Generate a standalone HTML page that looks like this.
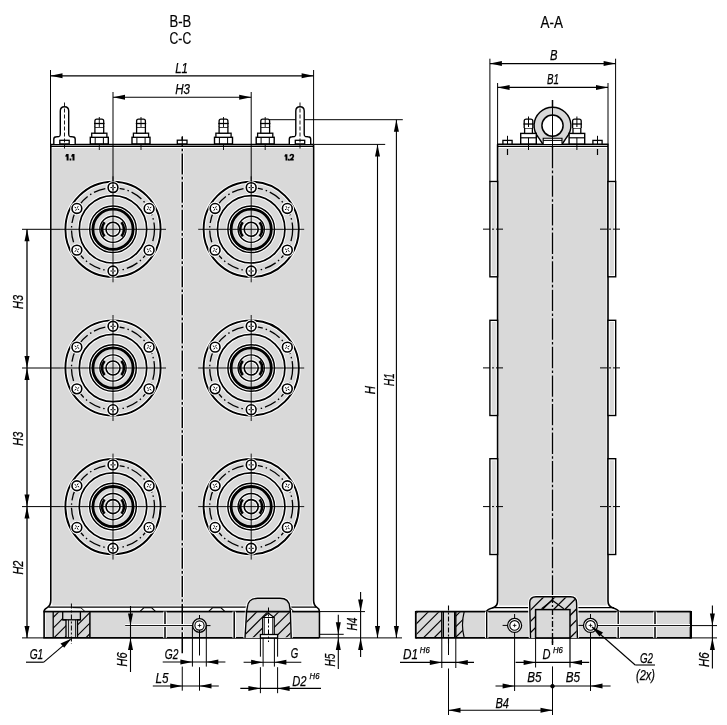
<!DOCTYPE html>
<html><head><meta charset="utf-8"><style>
html,body{margin:0;padding:0;background:#fff;width:727px;height:725px;overflow:hidden}
svg{display:block;will-change:transform}
text{font-family:"Liberation Sans",sans-serif;fill:#000}
</style></head><body>
<svg width="727" height="725" viewBox="0 0 727 725">
<defs>
<clipPath id="clipA"><rect x="416.5" y="612.3" width="25.3" height="25"/><path d="M455.8,612.3 H464.2 Q460.8,624.7 464.2,637.3 H455.8 Z"/></clipPath>
<clipPath id="clipD"><path d="M531,637.9 L530.3,603 Q530.3,597.5 536,597.5 H570.5 Q576,597.5 576,603 L576.8,637.9 Z"/></clipPath>
<clipPath id="clipG1"><path d="M53.2,612.3 H62.7 V619.8 H66 V637.3 H53.2 Z M80.4,612.3 H89.9 V637.3 H77.5 V619.8 H80.4 Z"/></clipPath>
<clipPath id="clipS"><path d="M245.7,637.3 L246.9,612.3 H290 L290.5,637.3 Z"/></clipPath>
</defs>
<text x="169.5" y="27.4" font-size="16"  font-weight="normal" text-anchor="start" textLength="21.7" lengthAdjust="spacingAndGlyphs"  stroke="#000" stroke-width="0.2">B-B</text>
<text x="169.5" y="43.6" font-size="16"  font-weight="normal" text-anchor="start" textLength="21.7" lengthAdjust="spacingAndGlyphs"  stroke="#000" stroke-width="0.2">C-C</text>
<text x="540.5" y="28" font-size="16"  font-weight="normal" text-anchor="start" textLength="22.5" lengthAdjust="spacingAndGlyphs"  stroke="#000" stroke-width="0.2">A-A</text>
<rect x="52.3" y="148" width="259.8" height="457.5" fill="#d9d9d9"  />
<rect x="45.6" y="612.6" width="272.6" height="24.6" fill="#d9d9d9"  />
<line x1="182.25" y1="137" x2="182.25" y2="655" stroke="#fff" stroke-width="3.5" stroke-dasharray="21 2.3 2.6 2.26" stroke-dashoffset="11.66"/>
<line x1="182.25" y1="137" x2="182.25" y2="655" stroke="#000" stroke-width="1.5" stroke-dasharray="21 2.3 2.6 2.26" stroke-dashoffset="11.66"/>
<line x1="182.25" y1="666.6" x2="182.25" y2="690.7" stroke="#000" stroke-width="1" />
<circle cx="113" cy="229.3" r="47.6" fill="none" stroke="#fff" stroke-width="3.9" />
<circle cx="113" cy="229.3" r="47.6" fill="none" stroke="#000" stroke-width="1.9" />
<circle cx="113" cy="229.3" r="41.5" fill="none" stroke="#000" stroke-width="1.3" stroke-dasharray="12 3 1.5 3"/>
<circle cx="113" cy="229.3" r="33.7" fill="none" stroke="#fff" stroke-width="3.7" />
<circle cx="113" cy="229.3" r="33.7" fill="none" stroke="#000" stroke-width="1.7" />
<circle cx="113" cy="229.3" r="23.3" fill="none" stroke="#fff" stroke-width="3.5" />
<circle cx="113" cy="229.3" r="23.3" fill="none" stroke="#000" stroke-width="1.5" />
<circle cx="113" cy="229.3" r="20.1" fill="none" stroke="#000" stroke-width="2.8" />
<circle cx="113" cy="229.3" r="13.1" fill="none" stroke="#fff" stroke-width="3.4" />
<circle cx="113" cy="229.3" r="13.1" fill="none" stroke="#000" stroke-width="1.4" />
<path d="M121.43,222.23 A11.0,11.0 0 0 1 121.43,236.37" fill="none" stroke="#000" stroke-width="2.6" />
<path d="M104.57,222.23 A11.0,11.0 0 0 0 104.57,236.37" fill="none" stroke="#000" stroke-width="2.6" />
<circle cx="113" cy="229.3" r="7" fill="none" stroke="#fff" stroke-width="3.6" />
<circle cx="113" cy="229.3" r="7" fill="none" stroke="#000" stroke-width="1.6" />
<circle cx="149.11" cy="208.45" r="4.9" fill="none" stroke="#fff" stroke-width="3.6" />
<circle cx="149.11" cy="208.45" r="4.9" fill="#fff" stroke="#000" stroke-width="1.6" />
<line x1="149.81" y1="208.05" x2="151.36" y2="207.15" stroke="#000" stroke-width="1" />
<line x1="148.42" y1="208.85" x2="146.86" y2="209.75" stroke="#000" stroke-width="1" />
<line x1="148.71" y1="207.76" x2="147.81" y2="206.2" stroke="#000" stroke-width="1" />
<line x1="149.51" y1="209.14" x2="150.41" y2="210.7" stroke="#000" stroke-width="1" />
<circle cx="113" cy="187.6" r="4.9" fill="none" stroke="#fff" stroke-width="3.6" />
<circle cx="113" cy="187.6" r="4.9" fill="#fff" stroke="#000" stroke-width="1.6" />
<line x1="113" y1="186.8" x2="113" y2="185" stroke="#000" stroke-width="1" />
<line x1="113" y1="188.4" x2="113" y2="190.2" stroke="#000" stroke-width="1" />
<line x1="112.2" y1="187.6" x2="110.4" y2="187.6" stroke="#000" stroke-width="1" />
<line x1="113.8" y1="187.6" x2="115.6" y2="187.6" stroke="#000" stroke-width="1" />
<circle cx="76.89" cy="208.45" r="4.9" fill="none" stroke="#fff" stroke-width="3.6" />
<circle cx="76.89" cy="208.45" r="4.9" fill="#fff" stroke="#000" stroke-width="1.6" />
<line x1="76.19" y1="208.05" x2="74.64" y2="207.15" stroke="#000" stroke-width="1" />
<line x1="77.58" y1="208.85" x2="79.14" y2="209.75" stroke="#000" stroke-width="1" />
<line x1="76.49" y1="209.14" x2="75.59" y2="210.7" stroke="#000" stroke-width="1" />
<line x1="77.29" y1="207.76" x2="78.19" y2="206.2" stroke="#000" stroke-width="1" />
<circle cx="76.89" cy="250.15" r="4.9" fill="none" stroke="#fff" stroke-width="3.6" />
<circle cx="76.89" cy="250.15" r="4.9" fill="#fff" stroke="#000" stroke-width="1.6" />
<line x1="76.19" y1="250.55" x2="74.64" y2="251.45" stroke="#000" stroke-width="1" />
<line x1="77.58" y1="249.75" x2="79.14" y2="248.85" stroke="#000" stroke-width="1" />
<line x1="77.29" y1="250.84" x2="78.19" y2="252.4" stroke="#000" stroke-width="1" />
<line x1="76.49" y1="249.46" x2="75.59" y2="247.9" stroke="#000" stroke-width="1" />
<circle cx="113" cy="271" r="4.9" fill="none" stroke="#fff" stroke-width="3.6" />
<circle cx="113" cy="271" r="4.9" fill="#fff" stroke="#000" stroke-width="1.6" />
<line x1="113" y1="271.8" x2="113" y2="273.6" stroke="#000" stroke-width="1" />
<line x1="113" y1="270.2" x2="113" y2="268.4" stroke="#000" stroke-width="1" />
<line x1="113.8" y1="271" x2="115.6" y2="271" stroke="#000" stroke-width="1" />
<line x1="112.2" y1="271" x2="110.4" y2="271" stroke="#000" stroke-width="1" />
<circle cx="149.11" cy="250.15" r="4.9" fill="none" stroke="#fff" stroke-width="3.6" />
<circle cx="149.11" cy="250.15" r="4.9" fill="#fff" stroke="#000" stroke-width="1.6" />
<line x1="149.81" y1="250.55" x2="151.36" y2="251.45" stroke="#000" stroke-width="1" />
<line x1="148.42" y1="249.75" x2="146.86" y2="248.85" stroke="#000" stroke-width="1" />
<line x1="149.51" y1="249.46" x2="150.41" y2="247.9" stroke="#000" stroke-width="1" />
<line x1="148.71" y1="250.84" x2="147.81" y2="252.4" stroke="#000" stroke-width="1" />
<line x1="60" y1="229.3" x2="166" y2="229.3" stroke="#000" stroke-width="0.9" />
<line x1="113" y1="176.3" x2="113" y2="282.3" stroke="#000" stroke-width="0.9" />
<circle cx="251.2" cy="229.3" r="47.6" fill="none" stroke="#fff" stroke-width="3.9" />
<circle cx="251.2" cy="229.3" r="47.6" fill="none" stroke="#000" stroke-width="1.9" />
<circle cx="251.2" cy="229.3" r="41.5" fill="none" stroke="#000" stroke-width="1.3" stroke-dasharray="12 3 1.5 3"/>
<circle cx="251.2" cy="229.3" r="33.7" fill="none" stroke="#fff" stroke-width="3.7" />
<circle cx="251.2" cy="229.3" r="33.7" fill="none" stroke="#000" stroke-width="1.7" />
<circle cx="251.2" cy="229.3" r="23.3" fill="none" stroke="#fff" stroke-width="3.5" />
<circle cx="251.2" cy="229.3" r="23.3" fill="none" stroke="#000" stroke-width="1.5" />
<circle cx="251.2" cy="229.3" r="20.1" fill="none" stroke="#000" stroke-width="2.8" />
<circle cx="251.2" cy="229.3" r="13.1" fill="none" stroke="#fff" stroke-width="3.4" />
<circle cx="251.2" cy="229.3" r="13.1" fill="none" stroke="#000" stroke-width="1.4" />
<path d="M259.63,222.23 A11.0,11.0 0 0 1 259.63,236.37" fill="none" stroke="#000" stroke-width="2.6" />
<path d="M242.77,222.23 A11.0,11.0 0 0 0 242.77,236.37" fill="none" stroke="#000" stroke-width="2.6" />
<circle cx="251.2" cy="229.3" r="7" fill="none" stroke="#fff" stroke-width="3.6" />
<circle cx="251.2" cy="229.3" r="7" fill="none" stroke="#000" stroke-width="1.6" />
<circle cx="287.31" cy="208.45" r="4.9" fill="none" stroke="#fff" stroke-width="3.6" />
<circle cx="287.31" cy="208.45" r="4.9" fill="#fff" stroke="#000" stroke-width="1.6" />
<line x1="288.01" y1="208.05" x2="289.56" y2="207.15" stroke="#000" stroke-width="1" />
<line x1="286.62" y1="208.85" x2="285.06" y2="209.75" stroke="#000" stroke-width="1" />
<line x1="286.91" y1="207.76" x2="286.01" y2="206.2" stroke="#000" stroke-width="1" />
<line x1="287.71" y1="209.14" x2="288.61" y2="210.7" stroke="#000" stroke-width="1" />
<circle cx="251.2" cy="187.6" r="4.9" fill="none" stroke="#fff" stroke-width="3.6" />
<circle cx="251.2" cy="187.6" r="4.9" fill="#fff" stroke="#000" stroke-width="1.6" />
<line x1="251.2" y1="186.8" x2="251.2" y2="185" stroke="#000" stroke-width="1" />
<line x1="251.2" y1="188.4" x2="251.2" y2="190.2" stroke="#000" stroke-width="1" />
<line x1="250.4" y1="187.6" x2="248.6" y2="187.6" stroke="#000" stroke-width="1" />
<line x1="252" y1="187.6" x2="253.8" y2="187.6" stroke="#000" stroke-width="1" />
<circle cx="215.09" cy="208.45" r="4.9" fill="none" stroke="#fff" stroke-width="3.6" />
<circle cx="215.09" cy="208.45" r="4.9" fill="#fff" stroke="#000" stroke-width="1.6" />
<line x1="214.39" y1="208.05" x2="212.84" y2="207.15" stroke="#000" stroke-width="1" />
<line x1="215.78" y1="208.85" x2="217.34" y2="209.75" stroke="#000" stroke-width="1" />
<line x1="214.69" y1="209.14" x2="213.79" y2="210.7" stroke="#000" stroke-width="1" />
<line x1="215.49" y1="207.76" x2="216.39" y2="206.2" stroke="#000" stroke-width="1" />
<circle cx="215.09" cy="250.15" r="4.9" fill="none" stroke="#fff" stroke-width="3.6" />
<circle cx="215.09" cy="250.15" r="4.9" fill="#fff" stroke="#000" stroke-width="1.6" />
<line x1="214.39" y1="250.55" x2="212.84" y2="251.45" stroke="#000" stroke-width="1" />
<line x1="215.78" y1="249.75" x2="217.34" y2="248.85" stroke="#000" stroke-width="1" />
<line x1="215.49" y1="250.84" x2="216.39" y2="252.4" stroke="#000" stroke-width="1" />
<line x1="214.69" y1="249.46" x2="213.79" y2="247.9" stroke="#000" stroke-width="1" />
<circle cx="251.2" cy="271" r="4.9" fill="none" stroke="#fff" stroke-width="3.6" />
<circle cx="251.2" cy="271" r="4.9" fill="#fff" stroke="#000" stroke-width="1.6" />
<line x1="251.2" y1="271.8" x2="251.2" y2="273.6" stroke="#000" stroke-width="1" />
<line x1="251.2" y1="270.2" x2="251.2" y2="268.4" stroke="#000" stroke-width="1" />
<line x1="252" y1="271" x2="253.8" y2="271" stroke="#000" stroke-width="1" />
<line x1="250.4" y1="271" x2="248.6" y2="271" stroke="#000" stroke-width="1" />
<circle cx="287.31" cy="250.15" r="4.9" fill="none" stroke="#fff" stroke-width="3.6" />
<circle cx="287.31" cy="250.15" r="4.9" fill="#fff" stroke="#000" stroke-width="1.6" />
<line x1="288.01" y1="250.55" x2="289.56" y2="251.45" stroke="#000" stroke-width="1" />
<line x1="286.62" y1="249.75" x2="285.06" y2="248.85" stroke="#000" stroke-width="1" />
<line x1="287.71" y1="249.46" x2="288.61" y2="247.9" stroke="#000" stroke-width="1" />
<line x1="286.91" y1="250.84" x2="286.01" y2="252.4" stroke="#000" stroke-width="1" />
<line x1="198.2" y1="229.3" x2="304.2" y2="229.3" stroke="#000" stroke-width="0.9" />
<line x1="251.2" y1="176.3" x2="251.2" y2="282.3" stroke="#000" stroke-width="0.9" />
<circle cx="113" cy="368" r="47.6" fill="none" stroke="#fff" stroke-width="3.9" />
<circle cx="113" cy="368" r="47.6" fill="none" stroke="#000" stroke-width="1.9" />
<circle cx="113" cy="368" r="41.5" fill="none" stroke="#000" stroke-width="1.3" stroke-dasharray="12 3 1.5 3"/>
<circle cx="113" cy="368" r="33.7" fill="none" stroke="#fff" stroke-width="3.7" />
<circle cx="113" cy="368" r="33.7" fill="none" stroke="#000" stroke-width="1.7" />
<circle cx="113" cy="368" r="23.3" fill="none" stroke="#fff" stroke-width="3.5" />
<circle cx="113" cy="368" r="23.3" fill="none" stroke="#000" stroke-width="1.5" />
<circle cx="113" cy="368" r="20.1" fill="none" stroke="#000" stroke-width="2.8" />
<circle cx="113" cy="368" r="13.1" fill="none" stroke="#fff" stroke-width="3.4" />
<circle cx="113" cy="368" r="13.1" fill="none" stroke="#000" stroke-width="1.4" />
<path d="M121.43,360.93 A11.0,11.0 0 0 1 121.43,375.07" fill="none" stroke="#000" stroke-width="2.6" />
<path d="M104.57,360.93 A11.0,11.0 0 0 0 104.57,375.07" fill="none" stroke="#000" stroke-width="2.6" />
<circle cx="113" cy="368" r="7" fill="none" stroke="#fff" stroke-width="3.6" />
<circle cx="113" cy="368" r="7" fill="none" stroke="#000" stroke-width="1.6" />
<circle cx="149.11" cy="347.15" r="4.9" fill="none" stroke="#fff" stroke-width="3.6" />
<circle cx="149.11" cy="347.15" r="4.9" fill="#fff" stroke="#000" stroke-width="1.6" />
<line x1="149.81" y1="346.75" x2="151.36" y2="345.85" stroke="#000" stroke-width="1" />
<line x1="148.42" y1="347.55" x2="146.86" y2="348.45" stroke="#000" stroke-width="1" />
<line x1="148.71" y1="346.46" x2="147.81" y2="344.9" stroke="#000" stroke-width="1" />
<line x1="149.51" y1="347.84" x2="150.41" y2="349.4" stroke="#000" stroke-width="1" />
<circle cx="113" cy="326.3" r="4.9" fill="none" stroke="#fff" stroke-width="3.6" />
<circle cx="113" cy="326.3" r="4.9" fill="#fff" stroke="#000" stroke-width="1.6" />
<line x1="113" y1="325.5" x2="113" y2="323.7" stroke="#000" stroke-width="1" />
<line x1="113" y1="327.1" x2="113" y2="328.9" stroke="#000" stroke-width="1" />
<line x1="112.2" y1="326.3" x2="110.4" y2="326.3" stroke="#000" stroke-width="1" />
<line x1="113.8" y1="326.3" x2="115.6" y2="326.3" stroke="#000" stroke-width="1" />
<circle cx="76.89" cy="347.15" r="4.9" fill="none" stroke="#fff" stroke-width="3.6" />
<circle cx="76.89" cy="347.15" r="4.9" fill="#fff" stroke="#000" stroke-width="1.6" />
<line x1="76.19" y1="346.75" x2="74.64" y2="345.85" stroke="#000" stroke-width="1" />
<line x1="77.58" y1="347.55" x2="79.14" y2="348.45" stroke="#000" stroke-width="1" />
<line x1="76.49" y1="347.84" x2="75.59" y2="349.4" stroke="#000" stroke-width="1" />
<line x1="77.29" y1="346.46" x2="78.19" y2="344.9" stroke="#000" stroke-width="1" />
<circle cx="76.89" cy="388.85" r="4.9" fill="none" stroke="#fff" stroke-width="3.6" />
<circle cx="76.89" cy="388.85" r="4.9" fill="#fff" stroke="#000" stroke-width="1.6" />
<line x1="76.19" y1="389.25" x2="74.64" y2="390.15" stroke="#000" stroke-width="1" />
<line x1="77.58" y1="388.45" x2="79.14" y2="387.55" stroke="#000" stroke-width="1" />
<line x1="77.29" y1="389.54" x2="78.19" y2="391.1" stroke="#000" stroke-width="1" />
<line x1="76.49" y1="388.16" x2="75.59" y2="386.6" stroke="#000" stroke-width="1" />
<circle cx="113" cy="409.7" r="4.9" fill="none" stroke="#fff" stroke-width="3.6" />
<circle cx="113" cy="409.7" r="4.9" fill="#fff" stroke="#000" stroke-width="1.6" />
<line x1="113" y1="410.5" x2="113" y2="412.3" stroke="#000" stroke-width="1" />
<line x1="113" y1="408.9" x2="113" y2="407.1" stroke="#000" stroke-width="1" />
<line x1="113.8" y1="409.7" x2="115.6" y2="409.7" stroke="#000" stroke-width="1" />
<line x1="112.2" y1="409.7" x2="110.4" y2="409.7" stroke="#000" stroke-width="1" />
<circle cx="149.11" cy="388.85" r="4.9" fill="none" stroke="#fff" stroke-width="3.6" />
<circle cx="149.11" cy="388.85" r="4.9" fill="#fff" stroke="#000" stroke-width="1.6" />
<line x1="149.81" y1="389.25" x2="151.36" y2="390.15" stroke="#000" stroke-width="1" />
<line x1="148.42" y1="388.45" x2="146.86" y2="387.55" stroke="#000" stroke-width="1" />
<line x1="149.51" y1="388.16" x2="150.41" y2="386.6" stroke="#000" stroke-width="1" />
<line x1="148.71" y1="389.54" x2="147.81" y2="391.1" stroke="#000" stroke-width="1" />
<line x1="60" y1="368" x2="166" y2="368" stroke="#000" stroke-width="0.9" />
<line x1="113" y1="315" x2="113" y2="421" stroke="#000" stroke-width="0.9" />
<circle cx="251.2" cy="368" r="47.6" fill="none" stroke="#fff" stroke-width="3.9" />
<circle cx="251.2" cy="368" r="47.6" fill="none" stroke="#000" stroke-width="1.9" />
<circle cx="251.2" cy="368" r="41.5" fill="none" stroke="#000" stroke-width="1.3" stroke-dasharray="12 3 1.5 3"/>
<circle cx="251.2" cy="368" r="33.7" fill="none" stroke="#fff" stroke-width="3.7" />
<circle cx="251.2" cy="368" r="33.7" fill="none" stroke="#000" stroke-width="1.7" />
<circle cx="251.2" cy="368" r="23.3" fill="none" stroke="#fff" stroke-width="3.5" />
<circle cx="251.2" cy="368" r="23.3" fill="none" stroke="#000" stroke-width="1.5" />
<circle cx="251.2" cy="368" r="20.1" fill="none" stroke="#000" stroke-width="2.8" />
<circle cx="251.2" cy="368" r="13.1" fill="none" stroke="#fff" stroke-width="3.4" />
<circle cx="251.2" cy="368" r="13.1" fill="none" stroke="#000" stroke-width="1.4" />
<path d="M259.63,360.93 A11.0,11.0 0 0 1 259.63,375.07" fill="none" stroke="#000" stroke-width="2.6" />
<path d="M242.77,360.93 A11.0,11.0 0 0 0 242.77,375.07" fill="none" stroke="#000" stroke-width="2.6" />
<circle cx="251.2" cy="368" r="7" fill="none" stroke="#fff" stroke-width="3.6" />
<circle cx="251.2" cy="368" r="7" fill="none" stroke="#000" stroke-width="1.6" />
<circle cx="287.31" cy="347.15" r="4.9" fill="none" stroke="#fff" stroke-width="3.6" />
<circle cx="287.31" cy="347.15" r="4.9" fill="#fff" stroke="#000" stroke-width="1.6" />
<line x1="288.01" y1="346.75" x2="289.56" y2="345.85" stroke="#000" stroke-width="1" />
<line x1="286.62" y1="347.55" x2="285.06" y2="348.45" stroke="#000" stroke-width="1" />
<line x1="286.91" y1="346.46" x2="286.01" y2="344.9" stroke="#000" stroke-width="1" />
<line x1="287.71" y1="347.84" x2="288.61" y2="349.4" stroke="#000" stroke-width="1" />
<circle cx="251.2" cy="326.3" r="4.9" fill="none" stroke="#fff" stroke-width="3.6" />
<circle cx="251.2" cy="326.3" r="4.9" fill="#fff" stroke="#000" stroke-width="1.6" />
<line x1="251.2" y1="325.5" x2="251.2" y2="323.7" stroke="#000" stroke-width="1" />
<line x1="251.2" y1="327.1" x2="251.2" y2="328.9" stroke="#000" stroke-width="1" />
<line x1="250.4" y1="326.3" x2="248.6" y2="326.3" stroke="#000" stroke-width="1" />
<line x1="252" y1="326.3" x2="253.8" y2="326.3" stroke="#000" stroke-width="1" />
<circle cx="215.09" cy="347.15" r="4.9" fill="none" stroke="#fff" stroke-width="3.6" />
<circle cx="215.09" cy="347.15" r="4.9" fill="#fff" stroke="#000" stroke-width="1.6" />
<line x1="214.39" y1="346.75" x2="212.84" y2="345.85" stroke="#000" stroke-width="1" />
<line x1="215.78" y1="347.55" x2="217.34" y2="348.45" stroke="#000" stroke-width="1" />
<line x1="214.69" y1="347.84" x2="213.79" y2="349.4" stroke="#000" stroke-width="1" />
<line x1="215.49" y1="346.46" x2="216.39" y2="344.9" stroke="#000" stroke-width="1" />
<circle cx="215.09" cy="388.85" r="4.9" fill="none" stroke="#fff" stroke-width="3.6" />
<circle cx="215.09" cy="388.85" r="4.9" fill="#fff" stroke="#000" stroke-width="1.6" />
<line x1="214.39" y1="389.25" x2="212.84" y2="390.15" stroke="#000" stroke-width="1" />
<line x1="215.78" y1="388.45" x2="217.34" y2="387.55" stroke="#000" stroke-width="1" />
<line x1="215.49" y1="389.54" x2="216.39" y2="391.1" stroke="#000" stroke-width="1" />
<line x1="214.69" y1="388.16" x2="213.79" y2="386.6" stroke="#000" stroke-width="1" />
<circle cx="251.2" cy="409.7" r="4.9" fill="none" stroke="#fff" stroke-width="3.6" />
<circle cx="251.2" cy="409.7" r="4.9" fill="#fff" stroke="#000" stroke-width="1.6" />
<line x1="251.2" y1="410.5" x2="251.2" y2="412.3" stroke="#000" stroke-width="1" />
<line x1="251.2" y1="408.9" x2="251.2" y2="407.1" stroke="#000" stroke-width="1" />
<line x1="252" y1="409.7" x2="253.8" y2="409.7" stroke="#000" stroke-width="1" />
<line x1="250.4" y1="409.7" x2="248.6" y2="409.7" stroke="#000" stroke-width="1" />
<circle cx="287.31" cy="388.85" r="4.9" fill="none" stroke="#fff" stroke-width="3.6" />
<circle cx="287.31" cy="388.85" r="4.9" fill="#fff" stroke="#000" stroke-width="1.6" />
<line x1="288.01" y1="389.25" x2="289.56" y2="390.15" stroke="#000" stroke-width="1" />
<line x1="286.62" y1="388.45" x2="285.06" y2="387.55" stroke="#000" stroke-width="1" />
<line x1="287.71" y1="388.16" x2="288.61" y2="386.6" stroke="#000" stroke-width="1" />
<line x1="286.91" y1="389.54" x2="286.01" y2="391.1" stroke="#000" stroke-width="1" />
<line x1="198.2" y1="368" x2="304.2" y2="368" stroke="#000" stroke-width="0.9" />
<line x1="251.2" y1="315" x2="251.2" y2="421" stroke="#000" stroke-width="0.9" />
<circle cx="113" cy="506.6" r="47.6" fill="none" stroke="#fff" stroke-width="3.9" />
<circle cx="113" cy="506.6" r="47.6" fill="none" stroke="#000" stroke-width="1.9" />
<circle cx="113" cy="506.6" r="41.5" fill="none" stroke="#000" stroke-width="1.3" stroke-dasharray="12 3 1.5 3"/>
<circle cx="113" cy="506.6" r="33.7" fill="none" stroke="#fff" stroke-width="3.7" />
<circle cx="113" cy="506.6" r="33.7" fill="none" stroke="#000" stroke-width="1.7" />
<circle cx="113" cy="506.6" r="23.3" fill="none" stroke="#fff" stroke-width="3.5" />
<circle cx="113" cy="506.6" r="23.3" fill="none" stroke="#000" stroke-width="1.5" />
<circle cx="113" cy="506.6" r="20.1" fill="none" stroke="#000" stroke-width="2.8" />
<circle cx="113" cy="506.6" r="13.1" fill="none" stroke="#fff" stroke-width="3.4" />
<circle cx="113" cy="506.6" r="13.1" fill="none" stroke="#000" stroke-width="1.4" />
<path d="M121.43,499.53 A11.0,11.0 0 0 1 121.43,513.67" fill="none" stroke="#000" stroke-width="2.6" />
<path d="M104.57,499.53 A11.0,11.0 0 0 0 104.57,513.67" fill="none" stroke="#000" stroke-width="2.6" />
<circle cx="113" cy="506.6" r="7" fill="none" stroke="#fff" stroke-width="3.6" />
<circle cx="113" cy="506.6" r="7" fill="none" stroke="#000" stroke-width="1.6" />
<circle cx="149.11" cy="485.75" r="4.9" fill="none" stroke="#fff" stroke-width="3.6" />
<circle cx="149.11" cy="485.75" r="4.9" fill="#fff" stroke="#000" stroke-width="1.6" />
<line x1="149.81" y1="485.35" x2="151.36" y2="484.45" stroke="#000" stroke-width="1" />
<line x1="148.42" y1="486.15" x2="146.86" y2="487.05" stroke="#000" stroke-width="1" />
<line x1="148.71" y1="485.06" x2="147.81" y2="483.5" stroke="#000" stroke-width="1" />
<line x1="149.51" y1="486.44" x2="150.41" y2="488" stroke="#000" stroke-width="1" />
<circle cx="113" cy="464.9" r="4.9" fill="none" stroke="#fff" stroke-width="3.6" />
<circle cx="113" cy="464.9" r="4.9" fill="#fff" stroke="#000" stroke-width="1.6" />
<line x1="113" y1="464.1" x2="113" y2="462.3" stroke="#000" stroke-width="1" />
<line x1="113" y1="465.7" x2="113" y2="467.5" stroke="#000" stroke-width="1" />
<line x1="112.2" y1="464.9" x2="110.4" y2="464.9" stroke="#000" stroke-width="1" />
<line x1="113.8" y1="464.9" x2="115.6" y2="464.9" stroke="#000" stroke-width="1" />
<circle cx="76.89" cy="485.75" r="4.9" fill="none" stroke="#fff" stroke-width="3.6" />
<circle cx="76.89" cy="485.75" r="4.9" fill="#fff" stroke="#000" stroke-width="1.6" />
<line x1="76.19" y1="485.35" x2="74.64" y2="484.45" stroke="#000" stroke-width="1" />
<line x1="77.58" y1="486.15" x2="79.14" y2="487.05" stroke="#000" stroke-width="1" />
<line x1="76.49" y1="486.44" x2="75.59" y2="488" stroke="#000" stroke-width="1" />
<line x1="77.29" y1="485.06" x2="78.19" y2="483.5" stroke="#000" stroke-width="1" />
<circle cx="76.89" cy="527.45" r="4.9" fill="none" stroke="#fff" stroke-width="3.6" />
<circle cx="76.89" cy="527.45" r="4.9" fill="#fff" stroke="#000" stroke-width="1.6" />
<line x1="76.19" y1="527.85" x2="74.64" y2="528.75" stroke="#000" stroke-width="1" />
<line x1="77.58" y1="527.05" x2="79.14" y2="526.15" stroke="#000" stroke-width="1" />
<line x1="77.29" y1="528.14" x2="78.19" y2="529.7" stroke="#000" stroke-width="1" />
<line x1="76.49" y1="526.76" x2="75.59" y2="525.2" stroke="#000" stroke-width="1" />
<circle cx="113" cy="548.3" r="4.9" fill="none" stroke="#fff" stroke-width="3.6" />
<circle cx="113" cy="548.3" r="4.9" fill="#fff" stroke="#000" stroke-width="1.6" />
<line x1="113" y1="549.1" x2="113" y2="550.9" stroke="#000" stroke-width="1" />
<line x1="113" y1="547.5" x2="113" y2="545.7" stroke="#000" stroke-width="1" />
<line x1="113.8" y1="548.3" x2="115.6" y2="548.3" stroke="#000" stroke-width="1" />
<line x1="112.2" y1="548.3" x2="110.4" y2="548.3" stroke="#000" stroke-width="1" />
<circle cx="149.11" cy="527.45" r="4.9" fill="none" stroke="#fff" stroke-width="3.6" />
<circle cx="149.11" cy="527.45" r="4.9" fill="#fff" stroke="#000" stroke-width="1.6" />
<line x1="149.81" y1="527.85" x2="151.36" y2="528.75" stroke="#000" stroke-width="1" />
<line x1="148.42" y1="527.05" x2="146.86" y2="526.15" stroke="#000" stroke-width="1" />
<line x1="149.51" y1="526.76" x2="150.41" y2="525.2" stroke="#000" stroke-width="1" />
<line x1="148.71" y1="528.14" x2="147.81" y2="529.7" stroke="#000" stroke-width="1" />
<line x1="60" y1="506.6" x2="166" y2="506.6" stroke="#000" stroke-width="0.9" />
<line x1="113" y1="453.6" x2="113" y2="559.6" stroke="#000" stroke-width="0.9" />
<circle cx="251.2" cy="506.6" r="47.6" fill="none" stroke="#fff" stroke-width="3.9" />
<circle cx="251.2" cy="506.6" r="47.6" fill="none" stroke="#000" stroke-width="1.9" />
<circle cx="251.2" cy="506.6" r="41.5" fill="none" stroke="#000" stroke-width="1.3" stroke-dasharray="12 3 1.5 3"/>
<circle cx="251.2" cy="506.6" r="33.7" fill="none" stroke="#fff" stroke-width="3.7" />
<circle cx="251.2" cy="506.6" r="33.7" fill="none" stroke="#000" stroke-width="1.7" />
<circle cx="251.2" cy="506.6" r="23.3" fill="none" stroke="#fff" stroke-width="3.5" />
<circle cx="251.2" cy="506.6" r="23.3" fill="none" stroke="#000" stroke-width="1.5" />
<circle cx="251.2" cy="506.6" r="20.1" fill="none" stroke="#000" stroke-width="2.8" />
<circle cx="251.2" cy="506.6" r="13.1" fill="none" stroke="#fff" stroke-width="3.4" />
<circle cx="251.2" cy="506.6" r="13.1" fill="none" stroke="#000" stroke-width="1.4" />
<path d="M259.63,499.53 A11.0,11.0 0 0 1 259.63,513.67" fill="none" stroke="#000" stroke-width="2.6" />
<path d="M242.77,499.53 A11.0,11.0 0 0 0 242.77,513.67" fill="none" stroke="#000" stroke-width="2.6" />
<circle cx="251.2" cy="506.6" r="7" fill="none" stroke="#fff" stroke-width="3.6" />
<circle cx="251.2" cy="506.6" r="7" fill="none" stroke="#000" stroke-width="1.6" />
<circle cx="287.31" cy="485.75" r="4.9" fill="none" stroke="#fff" stroke-width="3.6" />
<circle cx="287.31" cy="485.75" r="4.9" fill="#fff" stroke="#000" stroke-width="1.6" />
<line x1="288.01" y1="485.35" x2="289.56" y2="484.45" stroke="#000" stroke-width="1" />
<line x1="286.62" y1="486.15" x2="285.06" y2="487.05" stroke="#000" stroke-width="1" />
<line x1="286.91" y1="485.06" x2="286.01" y2="483.5" stroke="#000" stroke-width="1" />
<line x1="287.71" y1="486.44" x2="288.61" y2="488" stroke="#000" stroke-width="1" />
<circle cx="251.2" cy="464.9" r="4.9" fill="none" stroke="#fff" stroke-width="3.6" />
<circle cx="251.2" cy="464.9" r="4.9" fill="#fff" stroke="#000" stroke-width="1.6" />
<line x1="251.2" y1="464.1" x2="251.2" y2="462.3" stroke="#000" stroke-width="1" />
<line x1="251.2" y1="465.7" x2="251.2" y2="467.5" stroke="#000" stroke-width="1" />
<line x1="250.4" y1="464.9" x2="248.6" y2="464.9" stroke="#000" stroke-width="1" />
<line x1="252" y1="464.9" x2="253.8" y2="464.9" stroke="#000" stroke-width="1" />
<circle cx="215.09" cy="485.75" r="4.9" fill="none" stroke="#fff" stroke-width="3.6" />
<circle cx="215.09" cy="485.75" r="4.9" fill="#fff" stroke="#000" stroke-width="1.6" />
<line x1="214.39" y1="485.35" x2="212.84" y2="484.45" stroke="#000" stroke-width="1" />
<line x1="215.78" y1="486.15" x2="217.34" y2="487.05" stroke="#000" stroke-width="1" />
<line x1="214.69" y1="486.44" x2="213.79" y2="488" stroke="#000" stroke-width="1" />
<line x1="215.49" y1="485.06" x2="216.39" y2="483.5" stroke="#000" stroke-width="1" />
<circle cx="215.09" cy="527.45" r="4.9" fill="none" stroke="#fff" stroke-width="3.6" />
<circle cx="215.09" cy="527.45" r="4.9" fill="#fff" stroke="#000" stroke-width="1.6" />
<line x1="214.39" y1="527.85" x2="212.84" y2="528.75" stroke="#000" stroke-width="1" />
<line x1="215.78" y1="527.05" x2="217.34" y2="526.15" stroke="#000" stroke-width="1" />
<line x1="215.49" y1="528.14" x2="216.39" y2="529.7" stroke="#000" stroke-width="1" />
<line x1="214.69" y1="526.76" x2="213.79" y2="525.2" stroke="#000" stroke-width="1" />
<circle cx="251.2" cy="548.3" r="4.9" fill="none" stroke="#fff" stroke-width="3.6" />
<circle cx="251.2" cy="548.3" r="4.9" fill="#fff" stroke="#000" stroke-width="1.6" />
<line x1="251.2" y1="549.1" x2="251.2" y2="550.9" stroke="#000" stroke-width="1" />
<line x1="251.2" y1="547.5" x2="251.2" y2="545.7" stroke="#000" stroke-width="1" />
<line x1="252" y1="548.3" x2="253.8" y2="548.3" stroke="#000" stroke-width="1" />
<line x1="250.4" y1="548.3" x2="248.6" y2="548.3" stroke="#000" stroke-width="1" />
<circle cx="287.31" cy="527.45" r="4.9" fill="none" stroke="#fff" stroke-width="3.6" />
<circle cx="287.31" cy="527.45" r="4.9" fill="#fff" stroke="#000" stroke-width="1.6" />
<line x1="288.01" y1="527.85" x2="289.56" y2="528.75" stroke="#000" stroke-width="1" />
<line x1="286.62" y1="527.05" x2="285.06" y2="526.15" stroke="#000" stroke-width="1" />
<line x1="287.71" y1="526.76" x2="288.61" y2="525.2" stroke="#000" stroke-width="1" />
<line x1="286.91" y1="528.14" x2="286.01" y2="529.7" stroke="#000" stroke-width="1" />
<line x1="198.2" y1="506.6" x2="304.2" y2="506.6" stroke="#000" stroke-width="0.9" />
<line x1="251.2" y1="453.6" x2="251.2" y2="559.6" stroke="#000" stroke-width="0.9" />
<path d="M50.8,144.4 V600.3 C50.8,605 49.6,606.3 47.2,607.6 C45,608.8 44.1,609.5 44.1,611.5 V638" fill="none" stroke="#000" stroke-width="1.6" />
<path d="M313.6,144.4 V600.3 C313.6,605 314.8,606.3 317.2,607.6 C319.4,608.8 319.4,609.5 319.4,611.5 V638" fill="none" stroke="#000" stroke-width="1.6" />
<line x1="50.1" y1="144.4" x2="313.6" y2="144.4" stroke="#000" stroke-width="1.5" />
<line x1="313.6" y1="144.4" x2="385.2" y2="144.4" stroke="#000" stroke-width="1" />
<line x1="50.8" y1="146.3" x2="313.6" y2="146.3" stroke="#000" stroke-width="1.2" />
<line x1="48.6" y1="607.1" x2="316" y2="607.1" stroke="#000" stroke-width="1.4" />
<line x1="43.4" y1="611.6" x2="320.1" y2="611.6" stroke="#000" stroke-width="1.6" />
<line x1="43.4" y1="637.9" x2="319.4" y2="637.9" stroke="#000" stroke-width="1.7" />
<line x1="319.4" y1="637.9" x2="402" y2="637.9" stroke="#000" stroke-width="1" />
<line x1="50.5" y1="70" x2="50.5" y2="144.4" stroke="#000" stroke-width="1" />
<line x1="313.6" y1="70" x2="313.6" y2="144.4" stroke="#000" stroke-width="1" />
<line x1="50.5" y1="75.8" x2="313.6" y2="75.8" stroke="#000" stroke-width="1.3" />
<path d="M50.5,75.8 L62.5,73.3 L62.5,78.3 Z" fill="#000"/>
<path d="M313.6,75.8 L301.6,73.3 L301.6,78.3 Z" fill="#000"/>
<text x="175.2" y="72.9" font-size="15" font-style="italic" font-weight="normal" text-anchor="start" textLength="12.8" lengthAdjust="spacingAndGlyphs"  stroke="#000" stroke-width="0.25">L1</text>
<line x1="113" y1="92" x2="113" y2="181" stroke="#000" stroke-width="1" />
<line x1="251.2" y1="92" x2="251.2" y2="181" stroke="#000" stroke-width="1" />
<line x1="113" y1="97.3" x2="251.2" y2="97.3" stroke="#000" stroke-width="1.1" />
<path d="M113,97.3 L125,94.8 L125,99.8 Z" fill="#000"/>
<path d="M251.2,97.3 L239.2,94.8 L239.2,99.8 Z" fill="#000"/>
<text x="175.2" y="93.6" font-size="15" font-style="italic" font-weight="normal" text-anchor="start" textLength="14.8" lengthAdjust="spacingAndGlyphs"  stroke="#000" stroke-width="0.25">H3</text>
<line x1="269" y1="119.7" x2="402.8" y2="119.7" stroke="#000" stroke-width="1" />
<line x1="377.5" y1="144.4" x2="377.5" y2="637.9" stroke="#000" stroke-width="1.1" />
<path d="M377.5,144.4 L375,156.4 L380,156.4 Z" fill="#000"/>
<path d="M377.5,637.9 L375,625.9 L380,625.9 Z" fill="#000"/>
<line x1="396.4" y1="119.7" x2="396.4" y2="637.9" stroke="#000" stroke-width="1.1" />
<path d="M396.4,119.7 L393.9,131.7 L398.9,131.7 Z" fill="#000"/>
<path d="M396.4,637.9 L393.9,625.9 L398.9,625.9 Z" fill="#000"/>
<text x="374.8" y="394.3" font-size="15" font-style="italic" font-weight="normal" text-anchor="start" textLength="8.3" lengthAdjust="spacingAndGlyphs" transform="rotate(-90 374.8 394.3)" stroke="#000" stroke-width="0.25">H</text>
<text x="393.9" y="386" font-size="15" font-style="italic" font-weight="normal" text-anchor="start" textLength="12.8" lengthAdjust="spacingAndGlyphs" transform="rotate(-90 393.9 386)" stroke="#000" stroke-width="0.25">H1</text>
<line x1="22" y1="229.3" x2="60" y2="229.3" stroke="#000" stroke-width="1" />
<line x1="22" y1="368" x2="60" y2="368" stroke="#000" stroke-width="1" />
<line x1="22" y1="506.6" x2="60" y2="506.6" stroke="#000" stroke-width="1" />
<line x1="22" y1="637.9" x2="44" y2="637.9" stroke="#000" stroke-width="1" />
<line x1="27" y1="229.3" x2="27" y2="637.9" stroke="#000" stroke-width="1.3" />
<path d="M27,368 L24.5,380 L29.5,380 Z" fill="#000"/>
<path d="M27,368 L24.5,356 L29.5,356 Z" fill="#000"/>
<path d="M27,506.6 L24.5,518.6 L29.5,518.6 Z" fill="#000"/>
<path d="M27,506.6 L24.5,494.6 L29.5,494.6 Z" fill="#000"/>
<path d="M27,229.3 L24.5,241.3 L29.5,241.3 Z" fill="#000"/>
<path d="M27,637.9 L24.5,625.9 L29.5,625.9 Z" fill="#000"/>
<text x="23.2" y="309" font-size="15" font-style="italic" font-weight="normal" text-anchor="start" textLength="14.1" lengthAdjust="spacingAndGlyphs" transform="rotate(-90 23.2 309)" stroke="#000" stroke-width="0.25">H3</text>
<text x="23.2" y="445.7" font-size="15" font-style="italic" font-weight="normal" text-anchor="start" textLength="14.1" lengthAdjust="spacingAndGlyphs" transform="rotate(-90 23.2 445.7)" stroke="#000" stroke-width="0.25">H3</text>
<text x="23.2" y="574.6" font-size="15" font-style="italic" font-weight="normal" text-anchor="start" textLength="14.1" lengthAdjust="spacingAndGlyphs" transform="rotate(-90 23.2 574.6)" stroke="#000" stroke-width="0.25">H2</text>
<path d="M53.8,144 V139 Q53.8,136.8 56.5,136.8 L59,136.6 Q60.3,136.4 60.3,134 V111 Q60.3,106.8 64.5,106.8 Q68.7,106.8 68.7,111 V134 Q68.7,136.4 70,136.6 L72.5,136.8 Q75.2,136.8 75.2,139 V144" fill="#fff" stroke="#000" stroke-width="1.4" />
<rect x="59.8" y="140.3" width="9.4" height="3.6" fill="none" stroke="#000" stroke-width="1.3" />
<line x1="64.5" y1="102.5" x2="64.5" y2="150" stroke="#000" stroke-width="0.9" stroke-dasharray="4 2"/>
<path d="M289.3,144 V139 Q289.3,136.8 292,136.8 L294.5,136.6 Q295.8,136.4 295.8,134 V111 Q295.8,106.8 300,106.8 Q304.2,106.8 304.2,111 V134 Q304.2,136.4 305.5,136.6 L308,136.8 Q310.7,136.8 310.7,139 V144" fill="#fff" stroke="#000" stroke-width="1.4" />
<rect x="295.3" y="140.3" width="9.4" height="3.6" fill="none" stroke="#000" stroke-width="1.3" />
<line x1="300" y1="102.5" x2="300" y2="150" stroke="#000" stroke-width="0.9" stroke-dasharray="4 2"/>
<rect x="90.3" y="137.3" width="18" height="6.6" fill="#fff" stroke="#000" stroke-width="1.4" />
<line x1="95.2" y1="137.3" x2="95.2" y2="144" stroke="#000" stroke-width="1" />
<line x1="103.4" y1="137.3" x2="103.4" y2="144" stroke="#000" stroke-width="1" />
<rect x="91.7" y="133.2" width="15.2" height="4.1" fill="#fff" stroke="#000" stroke-width="1.3" />
<rect x="94.9" y="127.1" width="8.8" height="6.1" fill="#fff" stroke="#000" stroke-width="1.3" />
<path d="M94.9,127.1 V121 Q94.9,119.1 96.8,119.1 H101.8 Q103.7,119.1 103.7,121 V127.1" fill="#fff" stroke="#000" stroke-width="1.3" />
<line x1="94.1" y1="123.5" x2="104.5" y2="123.5" stroke="#000" stroke-width="1.3" />
<line x1="99.3" y1="117" x2="99.3" y2="127" stroke="#000" stroke-width="0.9" />
<line x1="99.3" y1="144" x2="99.3" y2="150" stroke="#000" stroke-width="0.9" />
<rect x="132" y="137.3" width="18" height="6.6" fill="#fff" stroke="#000" stroke-width="1.4" />
<line x1="136.9" y1="137.3" x2="136.9" y2="144" stroke="#000" stroke-width="1" />
<line x1="145.1" y1="137.3" x2="145.1" y2="144" stroke="#000" stroke-width="1" />
<rect x="133.4" y="133.2" width="15.2" height="4.1" fill="#fff" stroke="#000" stroke-width="1.3" />
<rect x="136.6" y="127.1" width="8.8" height="6.1" fill="#fff" stroke="#000" stroke-width="1.3" />
<path d="M136.6,127.1 V121 Q136.6,119.1 138.5,119.1 H143.5 Q145.4,119.1 145.4,121 V127.1" fill="#fff" stroke="#000" stroke-width="1.3" />
<line x1="135.8" y1="123.5" x2="146.2" y2="123.5" stroke="#000" stroke-width="1.3" />
<line x1="141" y1="117" x2="141" y2="127" stroke="#000" stroke-width="0.9" />
<line x1="141" y1="144" x2="141" y2="150" stroke="#000" stroke-width="0.9" />
<rect x="214.5" y="137.3" width="18" height="6.6" fill="#fff" stroke="#000" stroke-width="1.4" />
<line x1="219.4" y1="137.3" x2="219.4" y2="144" stroke="#000" stroke-width="1" />
<line x1="227.6" y1="137.3" x2="227.6" y2="144" stroke="#000" stroke-width="1" />
<rect x="215.9" y="133.2" width="15.2" height="4.1" fill="#fff" stroke="#000" stroke-width="1.3" />
<rect x="219.1" y="127.1" width="8.8" height="6.1" fill="#fff" stroke="#000" stroke-width="1.3" />
<path d="M219.1,127.1 V121 Q219.1,119.1 221,119.1 H226 Q227.9,119.1 227.9,121 V127.1" fill="#fff" stroke="#000" stroke-width="1.3" />
<line x1="218.3" y1="123.5" x2="228.7" y2="123.5" stroke="#000" stroke-width="1.3" />
<line x1="223.5" y1="117" x2="223.5" y2="127" stroke="#000" stroke-width="0.9" />
<line x1="223.5" y1="144" x2="223.5" y2="150" stroke="#000" stroke-width="0.9" />
<rect x="256.2" y="137.3" width="18" height="6.6" fill="#fff" stroke="#000" stroke-width="1.4" />
<line x1="261.1" y1="137.3" x2="261.1" y2="144" stroke="#000" stroke-width="1" />
<line x1="269.3" y1="137.3" x2="269.3" y2="144" stroke="#000" stroke-width="1" />
<rect x="257.6" y="133.2" width="15.2" height="4.1" fill="#fff" stroke="#000" stroke-width="1.3" />
<rect x="260.8" y="127.1" width="8.8" height="6.1" fill="#fff" stroke="#000" stroke-width="1.3" />
<path d="M260.8,127.1 V121 Q260.8,119.1 262.7,119.1 H267.7 Q269.6,119.1 269.6,121 V127.1" fill="#fff" stroke="#000" stroke-width="1.3" />
<line x1="260" y1="123.5" x2="270.4" y2="123.5" stroke="#000" stroke-width="1.3" />
<line x1="265.2" y1="117" x2="265.2" y2="127" stroke="#000" stroke-width="0.9" />
<line x1="265.2" y1="144" x2="265.2" y2="150" stroke="#000" stroke-width="0.9" />
<rect x="177.3" y="140.2" width="9.7" height="3.7" fill="#fff" stroke="#000" stroke-width="1.3" />
<line x1="182.25" y1="136" x2="182.25" y2="144" stroke="#000" stroke-width="1" />
<path d="M66.4,154 H68.6 V160.5 H66.6 V156.4 L65.5,157 V155.2 Z M69.6,158.6 H71.3 V160.5 H69.6 Z M72.3,154 H74.5 V160.5 H72.5 V156.4 L71.4,157 V155.2 Z" fill="#000"/>
<path d="M285.3,154.2 H287.4 V160.5 H285.5 V156.5 L284.6,157 V155.3 Z M287.9,158.8 H289.4 V160.5 H287.9 Z" fill="#000"/>
<path d="M290.1,156.2 Q290.2,154.5 291.8,154.5 Q293.4,154.5 293.4,156 Q293.4,157.2 290.6,159.6 H293.7" fill="none" stroke="#000" stroke-width="1.7" />
<g clip-path="url(#clipG1)">
<line x1="15" y1="645" x2="55" y2="605" stroke="#000" stroke-width="1.1"/>
<line x1="25.6" y1="645" x2="65.6" y2="605" stroke="#000" stroke-width="1.1"/>
<line x1="36.2" y1="645" x2="76.2" y2="605" stroke="#000" stroke-width="1.1"/>
<line x1="46.8" y1="645" x2="86.8" y2="605" stroke="#000" stroke-width="1.1"/>
<line x1="57.4" y1="645" x2="97.4" y2="605" stroke="#000" stroke-width="1.1"/>
<line x1="68" y1="645" x2="108" y2="605" stroke="#000" stroke-width="1.1"/>
<line x1="78.6" y1="645" x2="118.6" y2="605" stroke="#000" stroke-width="1.1"/>
<line x1="89.2" y1="645" x2="129.2" y2="605" stroke="#000" stroke-width="1.1"/>
</g>
<path d="M62.7,611.6 V619.8 H66 V637.9" fill="none" stroke="#000" stroke-width="1.3" />
<path d="M80.4,611.6 V619.8 H77.5 V637.9" fill="none" stroke="#000" stroke-width="1.3" />
<line x1="62.7" y1="619.8" x2="80.4" y2="619.8" stroke="#000" stroke-width="1.3" />
<line x1="68.5" y1="619.8" x2="68.5" y2="637.9" stroke="#000" stroke-width="0.8" />
<line x1="75.5" y1="619.8" x2="75.5" y2="637.9" stroke="#000" stroke-width="0.8" />
<line x1="53.2" y1="611.6" x2="53.2" y2="637.9" stroke="#000" stroke-width="1.3" />
<line x1="89.9" y1="611.6" x2="89.9" y2="637.9" stroke="#000" stroke-width="1.5" />
<line x1="71.4" y1="603.5" x2="71.4" y2="644" stroke="#000" stroke-width="1" stroke-dasharray="5 2 2 2"/>
<path d="M139.8,611.6 L143.8,607.8 H151.7 L155.7,611.6" fill="none" stroke="#000" stroke-width="1.1" />
<path d="M208.5,611.6 L212.5,607.8 H221 L225,611.6" fill="none" stroke="#000" stroke-width="1.1" />
<path d="M72.5,607.6 L81,607.8 L85,611.6" fill="none" stroke="#000" stroke-width="1" />
<line x1="165" y1="611.6" x2="165" y2="637.9" stroke="#fff" stroke-width="3.5" />
<line x1="165" y1="611.6" x2="165" y2="637.9" stroke="#000" stroke-width="1.5" />
<line x1="234.2" y1="611.6" x2="234.2" y2="637.9" stroke="#fff" stroke-width="3.5" />
<line x1="234.2" y1="611.6" x2="234.2" y2="637.9" stroke="#000" stroke-width="1.5" />
<line x1="125.2" y1="625.6" x2="192.5" y2="625.6" stroke="#fff" stroke-width="3" />
<line x1="125.2" y1="625.6" x2="192.5" y2="625.6" stroke="#000" stroke-width="1" />
<line x1="205.7" y1="625.6" x2="210.5" y2="625.6" stroke="#000" stroke-width="1" />
<circle cx="199.5" cy="625.5" r="6.8" fill="#fff" stroke="#000" stroke-width="1.3" />
<circle cx="199.5" cy="625.5" r="4.6" fill="#fff" stroke="#000" stroke-width="1.1" />
<line x1="197.7" y1="625.5" x2="201.3" y2="625.5" stroke="#000" stroke-width="0.8" />
<line x1="199.5" y1="623.7" x2="199.5" y2="627.3" stroke="#000" stroke-width="0.8" />
<line x1="199.5" y1="615" x2="199.5" y2="619" stroke="#000" stroke-width="1" />
<line x1="192.4" y1="625.5" x2="192.4" y2="666.6" stroke="#000" stroke-width="1" />
<line x1="206.3" y1="625.5" x2="206.3" y2="666.6" stroke="#000" stroke-width="1" />
<line x1="199.5" y1="630" x2="199.5" y2="655.5" stroke="#000" stroke-width="1" />
<line x1="199.5" y1="667.2" x2="199.5" y2="690.7" stroke="#000" stroke-width="1" />
<path d="M245,637.9 L246.6,611.6 L247.4,607 Q248.2,598.3 257.5,598.3 H280 Q289,598.3 289.7,607 L290.4,611.6 L291.2,637.9" fill="none" stroke="#fff" stroke-width="3.4" />
<path d="M245,637.9 L246.6,611.6 L247.4,607 Q248.2,598.3 257.5,598.3 H280 Q289,598.3 289.7,607 L290.4,611.6 L291.2,637.9" fill="#d9d9d9" stroke="#000" stroke-width="1.4" />
<g clip-path="url(#clipS)">
<line x1="219.6" y1="638" x2="246" y2="611.6" stroke="#000" stroke-width="1.1"/>
<line x1="230.6" y1="638" x2="257" y2="611.6" stroke="#000" stroke-width="1.1"/>
<line x1="241.6" y1="638" x2="268" y2="611.6" stroke="#000" stroke-width="1.1"/>
<line x1="252.6" y1="638" x2="279" y2="611.6" stroke="#000" stroke-width="1.1"/>
<line x1="263.6" y1="638" x2="290" y2="611.6" stroke="#000" stroke-width="1.1"/>
<line x1="274.6" y1="638" x2="301" y2="611.6" stroke="#000" stroke-width="1.1"/>
<line x1="285.6" y1="638" x2="312" y2="611.6" stroke="#000" stroke-width="1.1"/>
</g>
<line x1="245.5" y1="611.6" x2="291" y2="611.6" stroke="#000" stroke-width="1.6" />
<path d="M262.7,634.5 V617.5 L268.5,613.2 L274.2,617.5 V634.5" fill="#fff" stroke="#000" stroke-width="1.3" />
<line x1="262.7" y1="617.5" x2="274.2" y2="617.5" stroke="#000" stroke-width="1" />
<line x1="264.5" y1="617.5" x2="264.5" y2="634.5" stroke="#000" stroke-width="0.7" />
<line x1="272.5" y1="617.5" x2="272.5" y2="634.5" stroke="#000" stroke-width="0.7" />
<rect x="260.4" y="634.5" width="17.2" height="3.4" fill="#fff" stroke="#000" stroke-width="1.3" />
<line x1="268.5" y1="607.5" x2="268.5" y2="642" stroke="#000" stroke-width="1" stroke-dasharray="5 2 2 2"/>
<line x1="289.7" y1="607.5" x2="293.6" y2="611.2" stroke="#000" stroke-width="1" />
<line x1="260.4" y1="637.9" x2="260.4" y2="656.7" stroke="#000" stroke-width="1" />
<line x1="277.6" y1="637.9" x2="277.6" y2="656.7" stroke="#000" stroke-width="1" />
<line x1="260.4" y1="667.2" x2="260.4" y2="693.2" stroke="#000" stroke-width="1" />
<line x1="277.6" y1="667.2" x2="277.6" y2="693.2" stroke="#000" stroke-width="1" />
<line x1="263.1" y1="637.9" x2="263.1" y2="666.6" stroke="#000" stroke-width="1" />
<line x1="274.4" y1="637.9" x2="274.4" y2="666.6" stroke="#000" stroke-width="1" />
<line x1="70.5" y1="639.4" x2="43.8" y2="662.2" stroke="#000" stroke-width="1.1" />
<path d="M71.2,638.8 L60.5,643.6 L64.2,647.8 Z" fill="#000"/>
<line x1="26" y1="662.2" x2="43.8" y2="662.2" stroke="#000" stroke-width="1.2" />
<text x="29.7" y="658.7" font-size="15" font-style="italic" font-weight="normal" text-anchor="start" textLength="13.6" lengthAdjust="spacingAndGlyphs"  stroke="#000" stroke-width="0.25">G1</text>
<line x1="130.5" y1="606" x2="130.5" y2="672" stroke="#000" stroke-width="1.1" />
<path d="M130.5,625.6 L128,613.6 L133,613.6 Z" fill="#000"/>
<path d="M130.5,637.9 L128,649.9 L133,649.9 Z" fill="#000"/>
<text x="127" y="666.5" font-size="15" font-style="italic" font-weight="normal" text-anchor="start" textLength="14.1" lengthAdjust="spacingAndGlyphs" transform="rotate(-90 127 666.5)" stroke="#000" stroke-width="0.25">H6</text>
<line x1="162.7" y1="662" x2="225.4" y2="662" stroke="#000" stroke-width="1.1" />
<path d="M192.4,662 L180.4,659.5 L180.4,664.5 Z" fill="#000"/>
<path d="M206.3,662 L218.3,659.5 L218.3,664.5 Z" fill="#000"/>
<text x="164.8" y="658.6" font-size="15" font-style="italic" font-weight="normal" text-anchor="start" textLength="13.6" lengthAdjust="spacingAndGlyphs"  stroke="#000" stroke-width="0.25">G2</text>
<line x1="152.8" y1="686" x2="218.8" y2="686" stroke="#000" stroke-width="1.1" />
<path d="M182.25,686 L170.25,683.5 L170.25,688.5 Z" fill="#000"/>
<path d="M199.5,686 L211.5,683.5 L211.5,688.5 Z" fill="#000"/>
<text x="155.5" y="682.7" font-size="15" font-style="italic" font-weight="normal" text-anchor="start" textLength="13" lengthAdjust="spacingAndGlyphs"  stroke="#000" stroke-width="0.25">L5</text>
<line x1="243.6" y1="662.3" x2="301.3" y2="662.3" stroke="#000" stroke-width="1.1" />
<path d="M263.1,662.3 L251.1,659.8 L251.1,664.8 Z" fill="#000"/>
<path d="M274.4,662.3 L286.4,659.8 L286.4,664.8 Z" fill="#000"/>
<text x="290.8" y="657.7" font-size="15" font-style="italic" font-weight="normal" text-anchor="start" textLength="7.5" lengthAdjust="spacingAndGlyphs"  stroke="#000" stroke-width="0.25">G</text>
<line x1="240.3" y1="688.4" x2="321" y2="688.4" stroke="#000" stroke-width="1.1" />
<path d="M260.4,688.4 L248.4,685.9 L248.4,690.9 Z" fill="#000"/>
<path d="M277.6,688.4 L289.6,685.9 L289.6,690.9 Z" fill="#000"/>
<text x="292.2" y="686" font-size="15" font-style="italic" font-weight="normal" text-anchor="start" textLength="14.3" lengthAdjust="spacingAndGlyphs"  stroke="#000" stroke-width="0.25">D2</text>
<text x="309.6" y="679" font-size="8.5" font-style="italic" font-weight="normal" text-anchor="start" textLength="9.9" lengthAdjust="spacingAndGlyphs"  stroke="#000" stroke-width="0.25">H6</text>
<line x1="320" y1="611.6" x2="365" y2="611.6" stroke="#000" stroke-width="1" />
<line x1="320" y1="634.3" x2="343.7" y2="634.3" stroke="#000" stroke-width="1" />
<line x1="360.6" y1="592" x2="360.6" y2="657" stroke="#000" stroke-width="1.1" />
<path d="M360.6,611.6 L358.1,599.6 L363.1,599.6 Z" fill="#000"/>
<path d="M360.6,637.9 L358.1,649.9 L363.1,649.9 Z" fill="#000"/>
<line x1="338.3" y1="614.7" x2="338.3" y2="669" stroke="#000" stroke-width="1.1" />
<path d="M338.3,634.3 L335.8,622.3 L340.8,622.3 Z" fill="#000"/>
<path d="M338.3,637.9 L335.8,649.9 L340.8,649.9 Z" fill="#000"/>
<text x="357" y="630.5" font-size="15" font-style="italic" font-weight="normal" text-anchor="start" textLength="13" lengthAdjust="spacingAndGlyphs" transform="rotate(-90 357 630.5)" stroke="#000" stroke-width="0.25">H4</text>
<text x="334.5" y="666.5" font-size="15" font-style="italic" font-weight="normal" text-anchor="start" textLength="13" lengthAdjust="spacingAndGlyphs" transform="rotate(-90 334.5 666.5)" stroke="#000" stroke-width="0.25">H5</text>
<rect x="499" y="148" width="107.6" height="457.5" fill="#d9d9d9"  />
<rect x="417.3" y="612.6" width="272.3" height="24.6" fill="#d9d9d9"  />
<line x1="552.5" y1="100" x2="552.5" y2="645" stroke="#fff" stroke-width="3.5" stroke-dasharray="21.4 2.3 2.6 2.26" stroke-dashoffset="10.22"/>
<line x1="552.5" y1="100" x2="552.5" y2="645" stroke="#000" stroke-width="1.5" stroke-dasharray="21.4 2.3 2.6 2.26" stroke-dashoffset="10.22"/>
<path d="M497.6,144.3 V601 C497.6,605.5 496,606.8 493,607.7 C489,608.8 487,609.5 486.5,611.6" fill="none" stroke="#000" stroke-width="1.6" />
<path d="M608,144.3 V601 C608,605.5 609.6,606.8 612.6,607.7 C616.6,608.8 618,609.5 618.5,611.6" fill="none" stroke="#000" stroke-width="1.6" />
<line x1="497" y1="144.3" x2="608.6" y2="144.3" stroke="#000" stroke-width="1.5" />
<line x1="497.6" y1="146.3" x2="608" y2="146.3" stroke="#000" stroke-width="1.2" />
<line x1="492" y1="607.6" x2="614" y2="607.6" stroke="#000" stroke-width="1.3" />
<rect x="489.9" y="181.5" width="7.7" height="95.3" fill="#fff" stroke="#000" stroke-width="1.4" />
<rect x="491.7" y="183.1" width="4.1" height="92.1" fill="#d9d9d9"  />
<rect x="608" y="181.5" width="7.7" height="95.3" fill="#fff" stroke="#000" stroke-width="1.4" />
<rect x="609.8" y="183.1" width="4.1" height="92.1" fill="#d9d9d9"  />
<line x1="483" y1="229.15" x2="505" y2="229.15" stroke="#000" stroke-width="1" stroke-dasharray="7 2 2 2"/>
<line x1="600" y1="229.15" x2="622" y2="229.15" stroke="#000" stroke-width="1" stroke-dasharray="7 2 2 2"/>
<rect x="489.9" y="320.3" width="7.7" height="95.2" fill="#fff" stroke="#000" stroke-width="1.4" />
<rect x="491.7" y="321.9" width="4.1" height="92" fill="#d9d9d9"  />
<rect x="608" y="320.3" width="7.7" height="95.2" fill="#fff" stroke="#000" stroke-width="1.4" />
<rect x="609.8" y="321.9" width="4.1" height="92" fill="#d9d9d9"  />
<line x1="483" y1="367.9" x2="505" y2="367.9" stroke="#000" stroke-width="1" stroke-dasharray="7 2 2 2"/>
<line x1="600" y1="367.9" x2="622" y2="367.9" stroke="#000" stroke-width="1" stroke-dasharray="7 2 2 2"/>
<rect x="489.9" y="458.7" width="7.7" height="95.8" fill="#fff" stroke="#000" stroke-width="1.4" />
<rect x="491.7" y="460.3" width="4.1" height="92.6" fill="#d9d9d9"  />
<rect x="608" y="458.7" width="7.7" height="95.8" fill="#fff" stroke="#000" stroke-width="1.4" />
<rect x="609.8" y="460.3" width="4.1" height="92.6" fill="#d9d9d9"  />
<line x1="483" y1="506.6" x2="505" y2="506.6" stroke="#000" stroke-width="1" stroke-dasharray="7 2 2 2"/>
<line x1="600" y1="506.6" x2="622" y2="506.6" stroke="#000" stroke-width="1" stroke-dasharray="7 2 2 2"/>
<line x1="489.9" y1="58.7" x2="489.9" y2="181.5" stroke="#000" stroke-width="1" />
<line x1="615.6" y1="58.7" x2="615.6" y2="181.5" stroke="#000" stroke-width="1" />
<line x1="489.9" y1="63.6" x2="615.6" y2="63.6" stroke="#000" stroke-width="1.1" />
<path d="M489.9,63.6 L501.9,61.1 L501.9,66.1 Z" fill="#000"/>
<path d="M615.6,63.6 L603.6,61.1 L603.6,66.1 Z" fill="#000"/>
<text x="550" y="60" font-size="15" font-style="italic" font-weight="normal" text-anchor="start" textLength="7.5" lengthAdjust="spacingAndGlyphs"  stroke="#000" stroke-width="0.25">B</text>
<line x1="497.6" y1="83" x2="497.6" y2="144" stroke="#000" stroke-width="1" />
<line x1="608" y1="83" x2="608" y2="144" stroke="#000" stroke-width="1" />
<line x1="497.6" y1="87.4" x2="608" y2="87.4" stroke="#000" stroke-width="1.1" />
<path d="M497.6,87.4 L509.6,84.9 L509.6,89.9 Z" fill="#000"/>
<path d="M608,87.4 L596,84.9 L596,89.9 Z" fill="#000"/>
<text x="547" y="84" font-size="15" font-style="italic" font-weight="normal" text-anchor="start" textLength="12" lengthAdjust="spacingAndGlyphs"  stroke="#000" stroke-width="0.25">B1</text>
<path d="M542.8,144 L538.4,137.43 A18.4,18.4 0 1 1 566.6,137.43 L562.3,144 Z" fill="#d9d9d9" stroke="#000" stroke-width="1.4" />
<circle cx="552.5" cy="125.6" r="10.6" fill="#fff" stroke="#000" stroke-width="1.5" />
<path d="M543.2,144 V138.3 H562 V144" fill="#fff" stroke="#000" stroke-width="1.1" />
<line x1="543.2" y1="140.4" x2="562" y2="140.4" stroke="#000" stroke-width="1" />
<line x1="552.5" y1="101" x2="552.5" y2="150" stroke="#000" stroke-width="1" />
<rect x="520.7" y="133.4" width="15.6" height="10.6" fill="#fff" stroke="#000" stroke-width="1.4" />
<line x1="520.7" y1="137.8" x2="536.3" y2="137.8" stroke="#000" stroke-width="1.2" />
<rect x="524.6" y="128" width="7.8" height="5.4" fill="#fff" stroke="#000" stroke-width="1.3" />
<path d="M524.2,128 V121 Q524.2,119.1 526.2,119.1 H530.8 Q532.8,119.1 532.8,121 V128" fill="#fff" stroke="#000" stroke-width="1.3" />
<line x1="523.5" y1="124" x2="533.5" y2="124" stroke="#000" stroke-width="1.3" />
<line x1="528.5" y1="116.5" x2="528.5" y2="127" stroke="#000" stroke-width="1" />
<line x1="528.5" y1="137.8" x2="528.5" y2="150" stroke="#000" stroke-width="1" />
<rect x="569.1" y="133.4" width="15.6" height="10.6" fill="#fff" stroke="#000" stroke-width="1.4" />
<line x1="569.1" y1="137.8" x2="584.7" y2="137.8" stroke="#000" stroke-width="1.2" />
<rect x="573" y="128" width="7.8" height="5.4" fill="#fff" stroke="#000" stroke-width="1.3" />
<path d="M572.6,128 V121 Q572.6,119.1 574.6,119.1 H579.2 Q581.2,119.1 581.2,121 V128" fill="#fff" stroke="#000" stroke-width="1.3" />
<line x1="571.9" y1="124" x2="581.9" y2="124" stroke="#000" stroke-width="1.3" />
<line x1="576.9" y1="116.5" x2="576.9" y2="127" stroke="#000" stroke-width="1" />
<line x1="576.9" y1="137.8" x2="576.9" y2="150" stroke="#000" stroke-width="1" />
<rect x="502.9" y="140.4" width="9.2" height="3.7" fill="#fff" stroke="#000" stroke-width="1.3" />
<line x1="507.5" y1="135.8" x2="507.5" y2="144" stroke="#000" stroke-width="1" />
<line x1="507.5" y1="149" x2="507.5" y2="155" stroke="#000" stroke-width="1.2" />
<rect x="592.9" y="140.4" width="9.2" height="3.7" fill="#fff" stroke="#000" stroke-width="1.3" />
<line x1="597.5" y1="135.8" x2="597.5" y2="144" stroke="#000" stroke-width="1" />
<line x1="597.5" y1="149" x2="597.5" y2="155" stroke="#000" stroke-width="1.2" />
<g clip-path="url(#clipA)">
<line x1="391.5" y1="638" x2="418.5" y2="611" stroke="#000" stroke-width="1.1"/>
<line x1="402.1" y1="638" x2="429.1" y2="611" stroke="#000" stroke-width="1.1"/>
<line x1="412.7" y1="638" x2="439.7" y2="611" stroke="#000" stroke-width="1.1"/>
<line x1="423.3" y1="638" x2="450.3" y2="611" stroke="#000" stroke-width="1.1"/>
<line x1="433.9" y1="638" x2="460.9" y2="611" stroke="#000" stroke-width="1.1"/>
<line x1="444.5" y1="638" x2="471.5" y2="611" stroke="#000" stroke-width="1.1"/>
<line x1="455.1" y1="638" x2="482.1" y2="611" stroke="#000" stroke-width="1.1"/>
<line x1="465.7" y1="638" x2="492.7" y2="611" stroke="#000" stroke-width="1.1"/>
</g>
<rect x="441.8" y="611.6" width="14" height="26.3" fill="#d9d9d9"  />
<line x1="441.8" y1="611.6" x2="441.8" y2="637.9" stroke="#000" stroke-width="1.4" />
<line x1="455.8" y1="611.6" x2="455.8" y2="637.9" stroke="#000" stroke-width="1.4" />
<line x1="443.5" y1="611.6" x2="443.5" y2="637.9" stroke="#000" stroke-width="1" />
<line x1="454.5" y1="611.6" x2="454.5" y2="637.9" stroke="#000" stroke-width="1" />
<line x1="448.5" y1="605.5" x2="448.5" y2="644" stroke="#000" stroke-width="1.1" stroke-dasharray="5 2 2 2"/>
<path d="M464.2,611.6 Q460.8,624.7 464.2,637.9" fill="none" stroke="#000" stroke-width="1.2" />
<line x1="415.8" y1="611.6" x2="486.5" y2="611.6" stroke="#000" stroke-width="1.6" />
<line x1="486.5" y1="611.6" x2="690.8" y2="611.6" stroke="#000" stroke-width="1.6" />
<line x1="415.8" y1="637.9" x2="690.8" y2="637.9" stroke="#000" stroke-width="1.7" />
<line x1="690.8" y1="637.9" x2="717" y2="637.9" stroke="#000" stroke-width="1" />
<line x1="415.8" y1="611" x2="415.8" y2="638.6" stroke="#000" stroke-width="1.8" />
<line x1="690.8" y1="611" x2="690.8" y2="638.6" stroke="#000" stroke-width="2.4" />
<line x1="486.7" y1="611.6" x2="486.7" y2="637.9" stroke="#fff" stroke-width="3.4" />
<line x1="486.7" y1="611.6" x2="486.7" y2="637.9" stroke="#000" stroke-width="1.4" />
<line x1="618.2" y1="611.6" x2="618.2" y2="637.9" stroke="#fff" stroke-width="3.4" />
<line x1="618.2" y1="611.6" x2="618.2" y2="637.9" stroke="#000" stroke-width="1.4" />
<line x1="655" y1="611.6" x2="655" y2="637.9" stroke="#fff" stroke-width="3.5" />
<line x1="655" y1="611.6" x2="655" y2="637.9" stroke="#000" stroke-width="1.5" />
<line x1="598" y1="625.6" x2="690" y2="625.6" stroke="#fff" stroke-width="3" />
<line x1="598" y1="625.6" x2="690" y2="625.6" stroke="#000" stroke-width="1" />
<line x1="690" y1="625.6" x2="717" y2="625.6" stroke="#000" stroke-width="1" />
<path d="M530.5,637.9 L529.7,603 Q529.7,596.8 536,596.8 H570.5 Q576.6,596.8 576.6,603 L577.4,637.9" fill="none" stroke="#fff" stroke-width="3.4" />
<path d="M530.5,637.9 L529.7,603 Q529.7,596.8 536,596.8 H570.5 Q576.6,596.8 576.6,603 L577.4,637.9" fill="#d9d9d9" stroke="#000" stroke-width="1.4" />
<g clip-path="url(#clipD)">
<line x1="491.5" y1="638" x2="533.5" y2="596" stroke="#000" stroke-width="1.3"/>
<line x1="502.7" y1="638" x2="544.7" y2="596" stroke="#000" stroke-width="1.3"/>
<line x1="513.9" y1="638" x2="555.9" y2="596" stroke="#000" stroke-width="1.3"/>
<line x1="525.1" y1="638" x2="567.1" y2="596" stroke="#000" stroke-width="1.3"/>
<line x1="536.3" y1="638" x2="578.3" y2="596" stroke="#000" stroke-width="1.3"/>
<line x1="547.5" y1="638" x2="589.5" y2="596" stroke="#000" stroke-width="1.3"/>
<line x1="558.7" y1="638" x2="600.7" y2="596" stroke="#000" stroke-width="1.3"/>
<line x1="569.9" y1="638" x2="611.9" y2="596" stroke="#000" stroke-width="1.3"/>
</g>
<rect x="535.6" y="609.6" width="34.4" height="28.3" fill="#d9d9d9" stroke="#000" stroke-width="1.5" />
<path d="M541.6,608.8 L552.3,600.3 L563.8,608.8" fill="none" stroke="#000" stroke-width="1.2" />
<line x1="552.5" y1="597" x2="552.5" y2="645" stroke="#000" stroke-width="1.3" stroke-dasharray="6 2 2 2"/>
<circle cx="514.6" cy="625.4" r="7" fill="#fff" stroke="#000" stroke-width="1.3" />
<circle cx="514.6" cy="625.4" r="4.8" fill="#fff" stroke="#000" stroke-width="1.1" />
<line x1="512.8" y1="625.4" x2="516.4" y2="625.4" stroke="#000" stroke-width="0.8" />
<line x1="514.6" y1="623.6" x2="514.6" y2="627.2" stroke="#000" stroke-width="0.8" />
<line x1="502.6" y1="625.4" x2="507.1" y2="625.4" stroke="#000" stroke-width="1" />
<line x1="514.6" y1="614" x2="514.6" y2="619" stroke="#000" stroke-width="1" />
<line x1="514.6" y1="632" x2="514.6" y2="691" stroke="#000" stroke-width="1" />
<circle cx="590.5" cy="625.4" r="7" fill="#fff" stroke="#000" stroke-width="1.3" />
<circle cx="590.5" cy="625.4" r="4.8" fill="#fff" stroke="#000" stroke-width="1.1" />
<line x1="588.7" y1="625.4" x2="592.3" y2="625.4" stroke="#000" stroke-width="0.8" />
<line x1="590.5" y1="623.6" x2="590.5" y2="627.2" stroke="#000" stroke-width="0.8" />
<line x1="578.5" y1="625.4" x2="583" y2="625.4" stroke="#000" stroke-width="1" />
<line x1="590.5" y1="614" x2="590.5" y2="619" stroke="#000" stroke-width="1" />
<line x1="590.5" y1="632" x2="590.5" y2="691" stroke="#000" stroke-width="1" />
<line x1="535.6" y1="637.9" x2="535.6" y2="667.5" stroke="#000" stroke-width="1" />
<line x1="570" y1="637.9" x2="570" y2="667.5" stroke="#000" stroke-width="1.2" />
<line x1="552.5" y1="666.4" x2="552.5" y2="715" stroke="#000" stroke-width="1" />
<line x1="448.5" y1="637.9" x2="448.5" y2="655" stroke="#000" stroke-width="1" />
<line x1="448.5" y1="668.5" x2="448.5" y2="715" stroke="#000" stroke-width="1" />
<line x1="441.8" y1="637.9" x2="441.8" y2="668" stroke="#000" stroke-width="1" />
<line x1="455.8" y1="637.9" x2="455.8" y2="668" stroke="#000" stroke-width="1" />
<line x1="400" y1="662.4" x2="474" y2="662.4" stroke="#000" stroke-width="1.1" />
<path d="M441.8,662.4 L429.8,659.9 L429.8,664.9 Z" fill="#000"/>
<path d="M455.8,662.4 L467.8,659.9 L467.8,664.9 Z" fill="#000"/>
<text x="403" y="658.8" font-size="15" font-style="italic" font-weight="normal" text-anchor="start" textLength="15" lengthAdjust="spacingAndGlyphs"  stroke="#000" stroke-width="0.25">D1</text>
<text x="419.8" y="652.6" font-size="8.5" font-style="italic" font-weight="normal" text-anchor="start" textLength="9.9" lengthAdjust="spacingAndGlyphs"  stroke="#000" stroke-width="0.25">H6</text>
<line x1="515.6" y1="662.4" x2="589.2" y2="662.4" stroke="#000" stroke-width="1.1" />
<path d="M535.6,662.4 L523.6,659.9 L523.6,664.9 Z" fill="#000"/>
<path d="M570,662.4 L582,659.9 L582,664.9 Z" fill="#000"/>
<text x="542.5" y="658.7" font-size="15" font-style="italic" font-weight="normal" text-anchor="start" textLength="8" lengthAdjust="spacingAndGlyphs"  stroke="#000" stroke-width="0.25">D</text>
<text x="553" y="652.6" font-size="8.5" font-style="italic" font-weight="normal" text-anchor="start" textLength="9.9" lengthAdjust="spacingAndGlyphs"  stroke="#000" stroke-width="0.25">H6</text>
<line x1="495.5" y1="686" x2="610.6" y2="686" stroke="#000" stroke-width="1.1" />
<path d="M514.6,686 L502.6,683.5 L502.6,688.5 Z" fill="#000"/>
<path d="M590.5,686 L602.5,683.5 L602.5,688.5 Z" fill="#000"/>
<circle cx="552.5" cy="686.2" r="1.9" fill="#000" stroke="#000" stroke-width="0.6" />
<text x="527.2" y="682.4" font-size="15" font-style="italic" font-weight="normal" text-anchor="start" textLength="14.3" lengthAdjust="spacingAndGlyphs"  stroke="#000" stroke-width="0.25">B5</text>
<text x="565.7" y="682.4" font-size="15" font-style="italic" font-weight="normal" text-anchor="start" textLength="14.3" lengthAdjust="spacingAndGlyphs"  stroke="#000" stroke-width="0.25">B5</text>
<line x1="448.5" y1="710.3" x2="552.5" y2="710.3" stroke="#000" stroke-width="1.1" />
<path d="M448.5,710.3 L460.5,707.8 L460.5,712.8 Z" fill="#000"/>
<path d="M552.5,710.3 L540.5,707.8 L540.5,712.8 Z" fill="#000"/>
<text x="495.5" y="708" font-size="15" font-style="italic" font-weight="normal" text-anchor="start" textLength="13.5" lengthAdjust="spacingAndGlyphs"  stroke="#000" stroke-width="0.25">B4</text>
<line x1="592" y1="627" x2="635.2" y2="665" stroke="#000" stroke-width="1.1" />
<path d="M591.5,626.5 L603,632.5 L599.5,636.5 Z" fill="#000"/>
<line x1="635.2" y1="665" x2="655" y2="665" stroke="#000" stroke-width="1.1" />
<text x="640" y="663" font-size="15" font-style="italic" font-weight="normal" text-anchor="start" textLength="13" lengthAdjust="spacingAndGlyphs"  stroke="#000" stroke-width="0.25">G2</text>
<text x="636" y="680" font-size="15" font-style="italic" font-weight="normal" text-anchor="start" textLength="19" lengthAdjust="spacingAndGlyphs"  stroke="#000" stroke-width="0.25">(2x)</text>
<line x1="712.4" y1="605.4" x2="712.4" y2="668.5" stroke="#000" stroke-width="1.1" />
<path d="M712.4,625.6 L709.9,613.6 L714.9,613.6 Z" fill="#000"/>
<path d="M712.4,637.9 L709.9,649.9 L714.9,649.9 Z" fill="#000"/>
<text x="708.7" y="667.1" font-size="15" font-style="italic" font-weight="normal" text-anchor="start" textLength="14.7" lengthAdjust="spacingAndGlyphs" transform="rotate(-90 708.7 667.1)" stroke="#000" stroke-width="0.25">H6</text>
</svg></body></html>
